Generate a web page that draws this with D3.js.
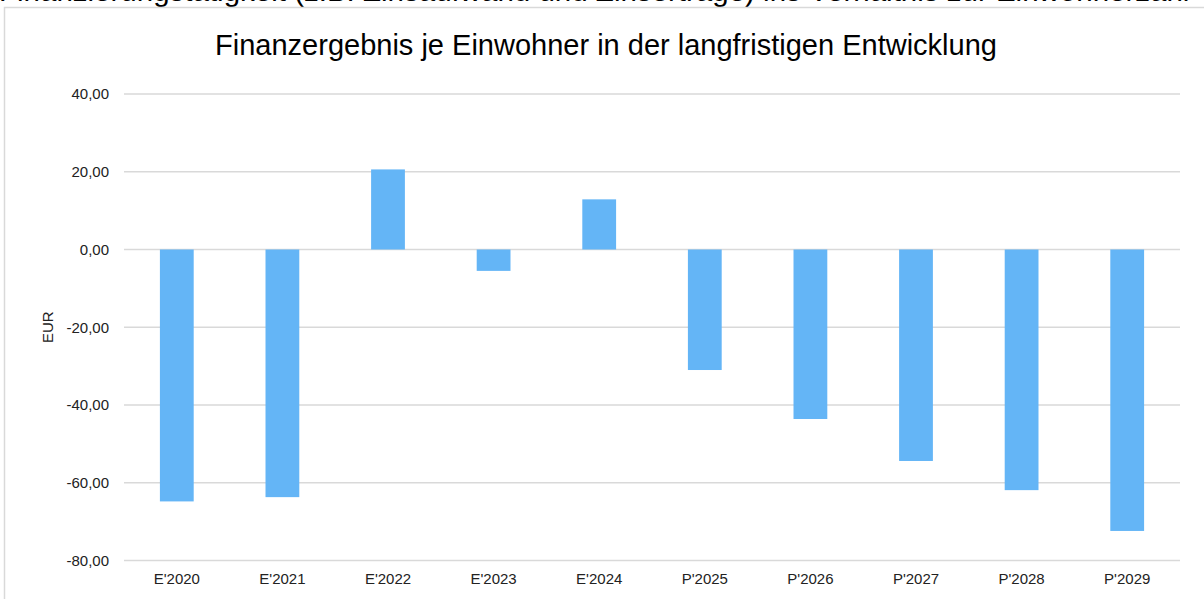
<!DOCTYPE html>
<html>
<head>
<meta charset="utf-8">
<script src="https://cdn.jsdelivr.net/npm/d3@7"></script>
<style>
  html, body { margin: 0; padding: 0; background: #fff; }
  svg { display: block; font-family: "Liberation Sans", Arial, sans-serif; }
</style>
</head>
<body>
<svg id="chart" width="1204" height="599"></svg>
<script>
const categories = ["E'2020", "E'2021", "E'2022", "E'2023", "E'2024", "P'2025", "P'2026", "P'2027", "P'2028", "P'2029"];
const values = [-64.8, -63.7, 20.6, -5.5, 12.9, -31.0, -43.6, -54.4, -61.9, -72.4];
const yTicks = [40, 20, 0, -20, -40, -60, -80];
const chartTitle = "Finanzergebnis je Einwohner in der langfristigen Entwicklung";
const topText = "Finanzierungstätigkeit (z.B. Zinsaufwand und Zinserträge) ins Verhältnis zur Einwohnerzahl";
const yAxisTitle = "EUR";

const svg = d3.select("#chart");
const W = 1204, H = 599;
const plot = { left: 124, right: 1180, top: 94, bottom: 560.5 };

// text of the page above the chart (cut off by the top edge, as in the reference)
svg.append("text")
  .attr("x", -1).attr("y", 1)
  .attr("font-size", 29.5).attr("fill", "#000")
  .text(topText);

// chart border
svg.append("rect")
  .attr("x", 4.5).attr("y", 7.5)
  .attr("width", W + 10).attr("height", H + 10)
  .attr("fill", "none").attr("stroke", "#d9d9d9").attr("stroke-width", 1.5);

// title
svg.append("text")
  .attr("x", 606).attr("y", 55)
  .attr("text-anchor", "middle")
  .attr("font-size", 29).attr("fill", "#000")
  .text(chartTitle);

const x = d3.scaleBand().domain(categories).range([plot.left, plot.right])
  .paddingInner(0.68).paddingOuter(0.34);
const y = d3.scaleLinear().domain([-80, 40]).range([plot.bottom, plot.top]);

// gridlines
svg.append("g").selectAll("line").data(yTicks).join("line")
  .attr("x1", plot.left).attr("x2", plot.right)
  .attr("y1", d => y(d)).attr("y2", d => y(d))
  .attr("stroke", "#d9d9d9").attr("stroke-width", 1.5);

// y axis labels
const fmt = d => d3.format(".2f")(d).replace(".", ",").replace("−", "-");
const yAxis = d3.axisLeft(y).tickValues(yTicks).tickSize(0).tickPadding(0).tickFormat(fmt);
const gy = svg.append("g").attr("transform", `translate(${plot.left - 15},0)`).call(yAxis);
gy.select(".domain").remove();
gy.selectAll("text").attr("font-size", 15).attr("fill", "#222")
  .attr("font-family", "Liberation Sans, Arial, sans-serif");

// x axis labels
const xAxis = d3.axisBottom(x).tickSize(0).tickPadding(0);
const gx = svg.append("g").attr("transform", `translate(0,${plot.bottom + 13})`).call(xAxis);
gx.select(".domain").remove();
gx.selectAll("text").attr("font-size", 15).attr("fill", "#222")
  .attr("font-family", "Liberation Sans, Arial, sans-serif");

// y axis title
svg.append("text")
  .attr("transform", `translate(53,${(plot.top + plot.bottom) / 2}) rotate(-90)`)
  .attr("text-anchor", "middle")
  .attr("font-size", 15).attr("fill", "#222")
  .text(yAxisTitle);

// bars
svg.append("g").selectAll("rect").data(values).join("rect")
  .attr("x", (d, i) => x(categories[i]))
  .attr("width", x.bandwidth())
  .attr("y", d => y(Math.max(0, d)))
  .attr("height", d => Math.abs(y(d) - y(0)))
  .attr("fill", "#64b5f6");
</script>
</body>
</html>
